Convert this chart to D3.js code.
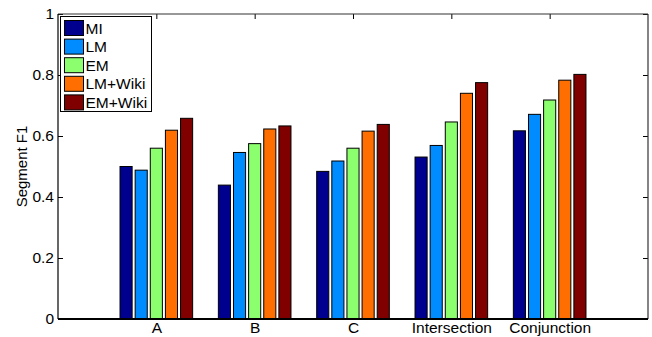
<!DOCTYPE html>
<html>
<head>
<meta charset="utf-8">
<script src="https://cdn.jsdelivr.net/npm/d3@7"></script>
<style>
  body { margin: 0; background: #fff; }
  svg { display: block; font-family: "Liberation Sans", Arial, Helvetica, sans-serif; }
  .axis path, .axis line { stroke: #000; }
  .axis text { font-size: 15.5px; fill: #000; }
</style>
</head>
<body>
<div id="chart"></div>
<script>
// categories + series
const categories = ['A', 'B', 'C', 'Intersection', 'Conjunction'];
const seriesNames = ['MI', 'LM', 'EM', 'LM+Wiki', 'EM+Wiki'];
const seriesColors = ['#00008f', '#008cff', '#8cff6e', '#ff6e00', '#800000'];

const miValues      = [0.500, 0.439, 0.484, 0.531, 0.617];
const lmValues      = [0.488, 0.546, 0.518, 0.569, 0.671];
const emValues      = [0.560, 0.575, 0.560, 0.646, 0.718];
const lmWikiValues  = [0.619, 0.623, 0.616, 0.740, 0.783];
const emWikiValues  = [0.658, 0.633, 0.638, 0.775, 0.802];

const yTicks = [0, 0.2, 0.4, 0.6, 0.8, 1];

const allSeries = [miValues, lmValues, emValues, lmWikiValues, emWikiValues];

const width = 652, height = 337;
const margin = {left: 58, right: 4, top: 14, bottom: 18};

const svg = d3.select('#chart').append('svg')
    .attr('width', width)
    .attr('height', height);

// matlab-style axes: xlim [0, n+1]
const x = d3.scaleLinear()
    .domain([0, categories.length + 1])
    .range([margin.left, width - margin.right]);
const y = d3.scaleLinear()
    .domain([0, 1])
    .range([height - margin.bottom, margin.top]);

// grouped bar geometry (same as matlab's bar())
const nb = seriesNames.length;
const groupWidth = Math.min(0.8, nb / (nb + 1.5));
const step = groupWidth / nb;
const barW = step * 0.8;

const bars = svg.append('g');
allSeries.forEach((vals, j) => {
    bars.append('g')
        .selectAll('rect')
        .data(vals)
        .join('rect')
        .attr('x', (d, i) => x(i + 1 + (j - (nb - 1) / 2) * step - barW / 2))
        .attr('width', x(barW) - x(0))
        .attr('y', d => y(d))
        .attr('height', d => y(0) - y(d))
        .attr('fill', seriesColors[j])
        .attr('stroke', '#000')
        .attr('stroke-width', 1);
});

const fmt = d3.format('~g');

svg.append('g')
    .attr('class', 'axis')
    .attr('transform', `translate(${margin.left},0)`)
    .call(d3.axisLeft(y).tickValues(yTicks).tickSize(-5).tickPadding(4).tickFormat(fmt))
    .call(g => g.select('.domain').remove());

svg.append('g')
    .attr('class', 'axis')
    .attr('transform', `translate(${width - margin.right},0)`)
    .call(d3.axisRight(y).tickValues(yTicks).tickSize(-5).tickFormat(''))
    .call(g => g.select('.domain').remove());

svg.append('g')
    .attr('class', 'axis')
    .attr('transform', `translate(0,${margin.top})`)
    .call(d3.axisTop(x).tickValues(d3.range(1, categories.length + 1)).tickSize(-5).tickFormat(''))
    .call(g => g.select('.domain').remove());

svg.append('g')
    .attr('class', 'axis')
    .attr('transform', `translate(0,${height - margin.bottom})`)
    .call(d3.axisBottom(x).tickValues(d3.range(1, categories.length + 1))
        .tickSize(0).tickPadding(3).tickFormat(d => categories[d - 1]))
    .call(g => g.select('.domain').remove());

// box
svg.append('line')
    .attr('x1', x(0)).attr('x2', x(categories.length + 1))
    .attr('y1', margin.top).attr('y2', margin.top)
    .attr('stroke', '#333').attr('stroke-width', 1.2);
svg.append('line')
    .attr('x1', x(categories.length + 1)).attr('x2', x(categories.length + 1))
    .attr('y1', margin.top).attr('y2', y(0))
    .attr('stroke', '#333').attr('stroke-width', 1.2);
svg.append('line')
    .attr('x1', x(0)).attr('x2', x(0))
    .attr('y1', margin.top).attr('y2', y(0))
    .attr('stroke', '#000').attr('stroke-width', 1.2);
svg.append('line')
    .attr('x1', x(0)).attr('x2', x(categories.length + 1))
    .attr('y1', y(0)).attr('y2', y(0))
    .attr('stroke', '#000').attr('stroke-width', 2);

svg.append('text')
    .attr('transform', `translate(27,${(y(0) + y(1)) / 2}) rotate(-90)`)
    .attr('text-anchor', 'middle')
    .attr('font-size', 15)
    .text('Segment F1');

// legend
const legend = svg.append('g').attr('transform', 'translate(60.5,16.5)');
legend.append('rect')
    .attr('width', 91).attr('height', 95)
    .attr('fill', '#fff').attr('stroke', '#000').attr('stroke-width', 1);
const item = legend.selectAll('g.item')
    .data(seriesNames)
    .join('g')
    .attr('class', 'item')
    .attr('transform', (d, i) => `translate(4,${4 + i * 18.6})`);
item.append('rect')
    .attr('width', 19).attr('height', 15)
    .attr('fill', (d, i) => seriesColors[i])
    .attr('stroke', '#000').attr('stroke-width', 1);
item.append('text')
    .attr('x', 21).attr('y', 7.5).attr('dy', '0.36em')
    .attr('font-size', 15.5)
    .text(d => d);
</script>
</body>
</html>
